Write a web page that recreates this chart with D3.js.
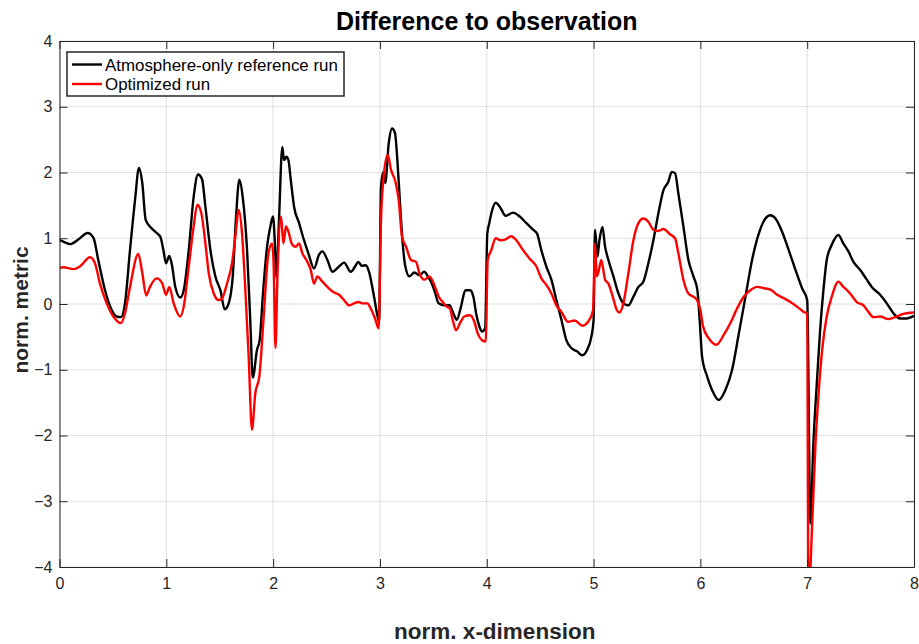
<!DOCTYPE html>
<html>
<head>
<meta charset="utf-8">
<script src="https://cdn.jsdelivr.net/npm/d3@7"></script>
<style>
  html, body { margin: 0; padding: 0; background: #fff; }
  svg { display: block; font-family: "Liberation Sans", Arial, Helvetica, sans-serif; }
</style>
</head>
<body>
<svg id="chart" width="919" height="644"></svg>
<script>
// ---- data ----
const seriesNames = ["Atmosphere-only reference run", "Optimized run"];
const seriesColors = ["#000000", "#ff0000"];
const xTicks = [0, 1, 2, 3, 4, 5, 6, 7, 8];
const yTicks = [-4, -3, -2, -1, 0, 1, 2, 3, 4];

const refX = [0.00,0.035,0.10,0.176,0.264,0.317,0.363,0.426,0.489,0.535,0.576,0.613,0.66,0.707,0.744,0.775,0.807,0.863,0.91,0.945,0.975,0.997,1.028,1.053,1.084,1.131,1.163,1.21,1.256,1.297,1.334,1.366,1.413,1.459,1.506,1.547,1.584,1.622,1.653,1.684,1.715,1.756,1.787,1.809,1.849,1.874,1.905,1.943,1.974,1.999,2.018,2.03,2.055,2.086,2.102,2.124,2.143,2.165,2.196,2.243,2.289,2.33,2.383,2.43,2.461,2.508,2.555,2.617,2.664,2.727,2.767,2.798,2.83,2.867,2.898,2.945,2.976,2.992,3.01,3.032,3.05,3.082,3.113,3.141,3.167,3.188,3.213,3.238,3.275,3.322,3.369,3.416,3.448,3.478,3.509,3.55,3.603,3.65,3.687,3.719,3.759,3.80,3.844,3.875,3.90,3.931,3.956,3.985,4.005,4.024,4.043,4.084,4.122,4.178,4.246,4.309,4.371,4.434,4.471,4.511,4.558,4.605,4.652,4.699,4.745,4.792,4.845,4.895,4.939,4.979,5.00,5.014,5.036,5.055,5.083,5.108,5.139,5.186,5.233,5.279,5.326,5.373,5.42,5.466,5.513,5.56,5.607,5.654,5.70,5.732,5.763,5.794,5.841,5.888,5.935,5.972,5.997,6.016,6.063,6.11,6.172,6.234,6.297,6.36,6.422,6.484,6.547,6.609,6.656,6.703,6.765,6.827,6.89,6.952,7.0,7.03,7.058,7.09,7.121,7.152,7.183,7.23,7.292,7.339,7.386,7.433,7.495,7.558,7.605,7.683,7.745,7.807,7.87,7.932,8.0];
const refY = [0.97,0.95,0.91,0.98,1.08,1.01,0.67,0.21,-0.09,-0.19,-0.20,0.01,0.82,1.58,2.07,1.84,1.28,1.15,1.08,1.02,0.80,0.62,0.73,0.59,0.26,0.10,0.21,0.82,1.63,1.97,1.90,1.48,0.82,0.42,0.21,-0.08,0.01,0.42,1.33,1.89,1.63,0.82,-0.29,-1.12,-0.70,-0.55,0.16,0.87,1.18,1.33,0.87,0.40,1.28,2.39,2.19,2.24,2.19,1.89,1.48,1.23,0.97,0.77,0.54,0.75,0.80,0.67,0.49,0.57,0.63,0.49,0.57,0.64,0.58,0.59,0.49,0.11,-0.17,-0.27,1.78,2.01,1.84,2.44,2.67,2.60,2.09,1.53,0.92,0.57,0.42,0.48,0.44,0.49,0.42,0.34,0.21,0.01,-0.02,-0.02,-0.14,-0.24,-0.04,0.21,0.21,0.11,-0.14,-0.34,-0.42,-0.37,1.07,1.23,1.38,1.54,1.48,1.34,1.39,1.33,1.23,1.13,1.07,0.82,0.57,0.37,0.06,-0.24,-0.55,-0.67,-0.72,-0.78,-0.70,-0.50,-0.25,1.13,0.72,0.97,1.17,0.87,0.67,0.42,0.16,0.01,-0.02,0.11,0.26,0.34,0.62,0.97,1.38,1.73,1.86,2.01,1.99,1.68,1.18,0.67,0.42,0.21,-0.34,-0.80,-1.10,-1.31,-1.46,-1.31,-1.00,-0.45,0.11,0.67,1.07,1.30,1.35,1.30,1.10,0.82,0.52,0.24,0.06,-3.34,-2.12,-1.21,-0.40,0.21,0.67,0.90,1.05,0.92,0.80,0.64,0.52,0.37,0.26,0.14,0.01,-0.14,-0.22,-0.22,-0.18];

const optX = [0.00,0.035,0.13,0.19,0.286,0.332,0.379,0.442,0.504,0.576,0.613,0.66,0.738,0.775,0.812,0.847,0.91,0.963,0.997,1.028,1.069,1.131,1.163,1.21,1.256,1.29,1.328,1.366,1.397,1.444,1.49,1.52,1.568,1.615,1.646,1.678,1.709,1.74,1.771,1.802,1.833,1.871,1.912,1.952,1.99,2.005,2.022,2.04,2.074,2.096,2.12,2.143,2.174,2.212,2.243,2.274,2.311,2.352,2.383,2.414,2.461,2.508,2.555,2.617,2.664,2.711,2.758,2.798,2.836,2.882,2.914,2.954,2.988,3.01,3.032,3.073,3.104,3.145,3.176,3.207,3.245,3.291,3.338,3.369,3.416,3.463,3.509,3.55,3.588,3.625,3.656,3.681,3.713,3.75,3.79,3.844,3.884,3.916,3.956,3.99,4.009,4.043,4.084,4.127,4.17,4.23,4.277,4.34,4.402,4.465,4.511,4.558,4.605,4.652,4.699,4.761,4.824,4.895,4.949,4.995,5.014,5.03,5.05,5.072,5.108,5.139,5.18,5.217,5.242,5.279,5.326,5.373,5.42,5.466,5.513,5.56,5.607,5.654,5.716,5.763,5.794,5.841,5.888,5.935,5.969,6.0,6.025,6.078,6.15,6.219,6.281,6.343,6.406,6.468,6.531,6.594,6.656,6.718,6.78,6.843,6.905,6.968,7.0,7.012,7.047,7.078,7.109,7.14,7.183,7.23,7.292,7.339,7.402,7.464,7.527,7.573,7.62,7.683,7.761,7.839,7.901,8.0];
const optY = [0.55,0.56,0.53,0.57,0.71,0.62,0.31,0.01,-0.19,-0.29,-0.14,0.26,0.76,0.47,0.13,0.26,0.39,0.31,0.14,0.26,0.01,-0.19,-0.04,0.57,1.18,1.51,1.38,0.92,0.47,0.16,0.06,0.08,0.31,0.62,1.02,1.43,1.07,0.21,-0.80,-1.91,-1.36,-1.10,-0.19,0.72,0.92,0.60,-0.67,0.40,1.33,0.92,1.18,1.10,0.92,0.87,0.92,0.77,0.67,0.52,0.31,0.42,0.34,0.26,0.19,0.14,0.06,-0.02,0.01,0.03,0.01,0.01,-0.07,-0.22,-0.37,1.28,1.89,2.27,2.04,1.86,1.58,1.02,0.87,0.67,0.64,0.47,0.37,0.42,0.29,0.11,0.03,-0.04,-0.07,-0.24,-0.40,-0.29,-0.19,-0.17,-0.27,-0.45,-0.55,-0.57,0.67,0.82,1.00,0.97,0.98,1.03,0.97,0.82,0.69,0.57,0.39,0.29,0.16,-0.02,-0.12,-0.27,-0.25,-0.33,-0.27,-0.10,0.92,0.42,0.52,0.67,0.37,0.31,0.11,-0.09,-0.13,0.01,0.47,0.97,1.23,1.30,1.25,1.13,1.11,1.14,1.06,1.00,0.77,0.37,0.16,0.11,0.06,-0.09,-0.34,-0.52,-0.62,-0.47,-0.29,-0.07,0.11,0.21,0.26,0.24,0.22,0.14,0.09,0.03,-0.04,-0.12,-0.15,-4.5,-3.34,-2.12,-1.31,-0.70,-0.19,0.11,0.34,0.26,0.16,0.03,-0.02,-0.12,-0.20,-0.19,-0.23,-0.19,-0.15,-0.13];

// ---- layout ----
const W = 919, H = 644;
const plot = { left: 59.5, right: 914, top: 41, bottom: 567 };
const svg = d3.select("#chart");

const x = d3.scaleLinear().domain([0, 8]).range([plot.left, plot.right]);
const y = d3.scaleLinear().domain([-4, 4]).range([plot.bottom, plot.top]);

const axisColor = "#262626";
const gridColor = "#dfdfdf";
const fmt = d => (d < 0 ? "\u2212" + Math.abs(d) : String(d));

// grid
const grid = svg.append("g");
grid.selectAll("line.gx").data(xTicks).join("line")
  .attr("x1", d => x(d)).attr("x2", d => x(d))
  .attr("y1", plot.top).attr("y2", plot.bottom)
  .attr("stroke", gridColor).attr("stroke-width", 1);
grid.selectAll("line.gy").data(yTicks).join("line")
  .attr("x1", plot.left).attr("x2", plot.right)
  .attr("y1", d => y(d)).attr("y2", d => y(d))
  .attr("stroke", gridColor).attr("stroke-width", 1);

// clip
svg.append("defs").append("clipPath").attr("id", "clip")
  .append("rect").attr("x", plot.left).attr("y", plot.top)
  .attr("width", plot.right - plot.left).attr("height", plot.bottom - plot.top);

// lines
const line = d3.line().x(d => x(d[0])).y(d => y(d[1])).curve(d3.curveMonotoneX);
const series = [
  refX.map((v, i) => [v, refY[i]]),
  optX.map((v, i) => [v, optY[i]])
];
const lg = svg.append("g").attr("clip-path", "url(#clip)");
series.forEach((s, i) => {
  lg.append("path").datum(s).attr("d", line)
    .attr("fill", "none").attr("stroke", seriesColors[i])
    .attr("stroke-width", 2.4).attr("stroke-linejoin", "round");
});

// axes (MATLAB-style box with inward ticks)
const tickLen = 8;
const axB = svg.append("g").attr("transform", `translate(0,${plot.bottom})`)
  .call(d3.axisBottom(x).tickValues(xTicks).tickFormat(fmt).tickSizeInner(-tickLen).tickSizeOuter(0).tickPadding(11));
const axT = svg.append("g").attr("transform", `translate(0,${plot.top})`)
  .call(d3.axisTop(x).tickValues(xTicks).tickFormat("").tickSizeInner(-tickLen).tickSizeOuter(0));
const axL = svg.append("g").attr("transform", `translate(${plot.left},0)`)
  .call(d3.axisLeft(y).tickValues(yTicks).tickFormat(fmt).tickSizeInner(-tickLen).tickSizeOuter(0).tickPadding(7));
const axR = svg.append("g").attr("transform", `translate(${plot.right},0)`)
  .call(d3.axisRight(y).tickValues(yTicks).tickFormat("").tickSizeInner(-tickLen).tickSizeOuter(0));
[axB, axT, axL, axR].forEach(a => {
  a.select(".domain").attr("stroke", axisColor).attr("stroke-width", 1);
  a.selectAll(".tick line").attr("stroke", axisColor).attr("stroke-width", 1);
  a.selectAll(".tick text").attr("fill", axisColor)
    .style("font-size", "16px").style("font-family", '"Liberation Sans", Arial, Helvetica, sans-serif');
});
axB.selectAll(".tick text").attr("dy", "0.71em");

// title & labels
svg.append("text").attr("x", (plot.left + plot.right) / 2).attr("y", 30)
  .attr("text-anchor", "middle").style("font-size", "25px").style("font-weight", "bold")
  .attr("fill", "#000").text("Difference to observation");
svg.append("text").attr("x", (plot.left + plot.right) / 2 + 8).attr("y", 639)
  .attr("text-anchor", "middle").style("font-size", "22.5px").style("font-weight", "bold")
  .attr("fill", "#262626").text("norm. x-dimension");
svg.append("text").attr("transform", `translate(28,${(plot.top + plot.bottom) / 2 + 6}) rotate(-90)`)
  .attr("text-anchor", "middle").style("font-size", "21px").style("font-weight", "bold")
  .attr("fill", "#262626").text("norm. metric");

// legend
const leg = svg.append("g");
leg.append("rect").attr("x", 67).attr("y", 52).attr("width", 277).attr("height", 44)
  .attr("fill", "#fff").attr("stroke", axisColor).attr("stroke-width", 1.5);
seriesNames.forEach((name, i) => {
  const yy = 64.5 + i * 19.5;
  leg.append("line").attr("x1", 72).attr("x2", 102).attr("y1", yy).attr("y2", yy)
    .attr("stroke", seriesColors[i]).attr("stroke-width", 2.4);
  leg.append("text").attr("x", 105).attr("y", yy + 6).style("font-size", "16.9px")
    .attr("fill", "#000").text(name);
});
</script>
</body>
</html>
